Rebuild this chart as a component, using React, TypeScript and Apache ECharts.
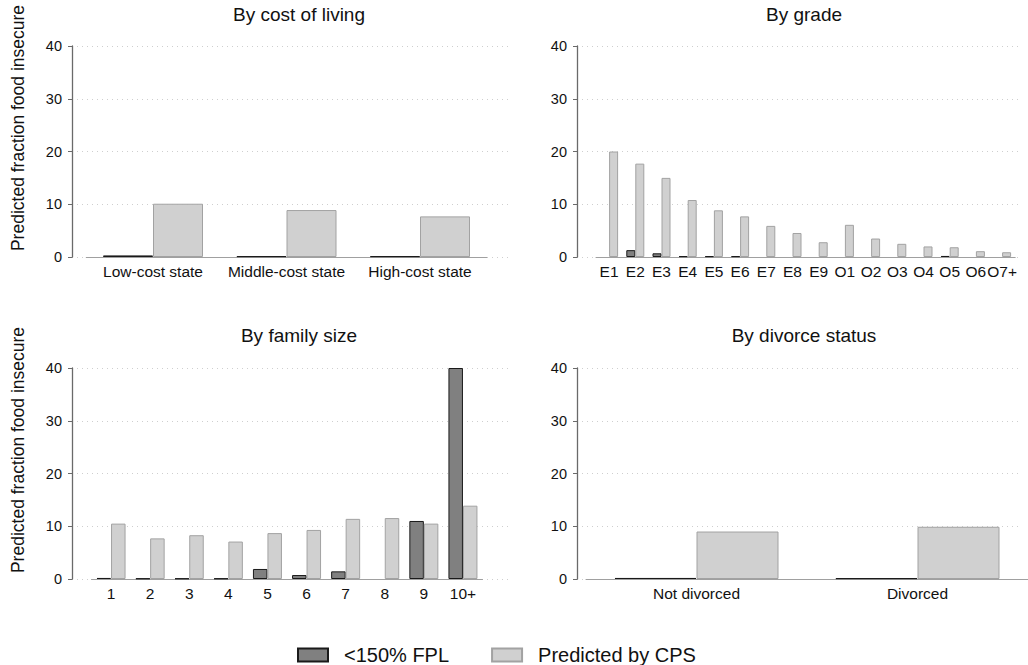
import React, { useEffect, useRef } from "react";
import * as echarts from "echarts";

const costCategories = ["Low-cost state", "Middle-cost state", "High-cost state"];
const costFpl = [0.3, 0.15, 0.15];
const costCps = [10.1, 8.9, 7.7];

const gradeCategories = ["E1", "E2", "E3", "E4", "E5", "E6", "E7", "E8", "E9", "O1", "O2", "O3", "O4", "O5", "O6", "O7+"];
const gradeFpl = [0, 1.3, 0.7, 0.15, 0.15, 0.15, 0, 0, 0, 0, 0, 0, 0, 0.2, 0, 0];
const gradeCps = [20.0, 17.7, 15.0, 10.8, 8.85, 7.7, 5.9, 4.55, 2.8, 6.1, 3.5, 2.5, 2.0, 1.85, 1.1, 0.9];

const familyCategories = ["1", "2", "3", "4", "5", "6", "7", "8", "9", "10+"];
const familyFpl = [0.2, 0.1, 0.1, 0.1, 1.9, 0.75, 1.45, 0, 11.0, 40.0];
const familyCps = [10.5, 7.7, 8.3, 7.1, 8.7, 9.3, 11.4, 11.55, 10.5, 13.9];

const divorceCategories = ["Not divorced", "Divorced"];
const divorceFpl = [0.2, 0.15];
const divorceCps = [9.0, 9.9];

const panelTitles = ["By cost of living", "By grade", "By family size", "By divorce status"];
const yAxisTitle = "Predicted fraction food insecure";
const yTicks = [0, 10, 20, 30, 40];
const seriesNames = ["<150% FPL", "Predicted by CPS"];

const FONT = "Liberation Sans, Arial, sans-serif";

export default function App() {
  const ref = useRef<HTMLDivElement>(null);
  useEffect(() => {
    if (!ref.current) return;
    const chart = echarts.init(ref.current, null, { renderer: "svg" });

    const panels = [
      { cats: costCategories, fpl: costFpl, cps: costCps, barWidth: 50 },
      { cats: gradeCategories, fpl: gradeFpl, cps: gradeCps, barWidth: 9 },
      { cats: familyCategories, fpl: familyFpl, cps: familyCps, barWidth: 14.5 },
      { cats: divorceCategories, fpl: divorceFpl, cps: divorceCps, barWidth: 82 },
    ];

    const gridA = [
      { left: 72, top: 46, width: 438, height: 211 },
      { left: 577, top: 46, width: 443, height: 211 },
      { left: 72, top: 368, width: 438, height: 211 },
      { left: 577, top: 368, width: 443, height: 211 },
    ];
    const gridB = [
      { left: 86.25, top: 46, width: 400.5, height: 211 },
      { left: 596, top: 46, width: 419.2, height: 211 },
      { left: 91.5, top: 368, width: 391, height: 211 },
      { left: 586, top: 368, width: 442, height: 211 },
    ];

    const yMin = yTicks[0];
    const yMax = yTicks[yTicks.length - 1];
    const yInterval = yTicks[1] - yTicks[0];

    const xAxes: any[] = [];
    const yAxes: any[] = [];
    gridA.forEach((g, i) => {
      xAxes.push({ type: "category", gridIndex: i, data: [""], show: false });
      yAxes.push({
        type: "value",
        gridIndex: i,
        min: yMin,
        max: yMax,
        interval: yInterval,
        axisLine: { show: true, lineStyle: { color: "#6a6a6a", width: 1.3 } },
        axisTick: { show: true, length: 4, lineStyle: { color: "#6a6a6a", width: 1 } },
        axisLabel: { fontFamily: FONT, fontSize: 14.5, color: "#111", margin: 10 },
        splitLine: { show: true, lineStyle: { color: "#cfcfcf", type: [1, 4], width: 1 } },
      });
    });
    gridB.forEach((g, i) => {
      xAxes.push({
        type: "category",
        gridIndex: 4 + i,
        data: panels[i].cats,
        axisLine: { show: true, lineStyle: { color: "#a0a0a0", width: 1 } },
        axisTick: { show: false },
        axisLabel: { fontFamily: FONT, fontSize: 15.5, color: "#111", margin: 6, interval: 0, hideOverlap: false },
      });
      yAxes.push({ type: "value", gridIndex: 4 + i, min: yMin, max: yMax, show: false, splitLine: { show: false } });
    });

    const toBar = (v: number) => (v === 0 ? "-" : v);
    const series: any[] = [];
    panels.forEach((p, i) => {
      series.push({
        type: "bar",
        name: seriesNames[0],
        xAxisIndex: 4 + i,
        yAxisIndex: 4 + i,
        data: p.fpl.map(toBar),
        barWidth: p.barWidth,
        barGap: "0%",
        itemStyle: { color: "#808080", borderColor: "#1a1a1a", borderWidth: 1 },
      });
      series.push({
        type: "bar",
        name: seriesNames[1],
        xAxisIndex: 4 + i,
        yAxisIndex: 4 + i,
        data: p.cps.map(toBar),
        barWidth: p.barWidth,
        barGap: "0%",
        itemStyle: { color: "#d0d0d0", borderColor: "#a2a2a2", borderWidth: 1 },
      });
    });

    const titleCenters = [294, 799, 294, 799];
    const titleTops = [0, 0, 321, 321];
    const titles = panelTitles.map((t, i) => ({
      text: t,
      left: titleCenters[i],
      top: titleTops[i],
      textAlign: "center",
      textStyle: { fontFamily: FONT, fontSize: 19, fontWeight: "normal", color: "#111" },
    }));

    const yTitleCenters = [128, 450];
    const graphic = yTitleCenters.map((cy) => ({
      type: "text",
      x: 18,
      y: cy,
      rotation: Math.PI / 2,
      style: {
        text: yAxisTitle,
        fontFamily: FONT,
        fontSize: 17.5,
        fill: "#111",
        align: "center",
        verticalAlign: "middle",
      },
    }));

    chart.setOption({
      animation: false,
      backgroundColor: "#fff",
      title: titles,
      graphic,
      grid: [...gridA, ...gridB],
      xAxis: xAxes,
      yAxis: yAxes,
      legend: {
        data: seriesNames,
        left: 292,
        top: 640,
        icon: "rect",
        itemWidth: 30,
        itemHeight: 13,
        itemGap: 42,
        textStyle: { fontFamily: FONT, fontSize: 20, color: "#111", padding: [0, 0, 0, 11] },
      },
      series,
    });
    return () => chart.dispose();
  }, []);
  return <div ref={ref} style={{ position: "fixed", left: 0, top: 0, width: 1028, height: 665 }} />;
}
